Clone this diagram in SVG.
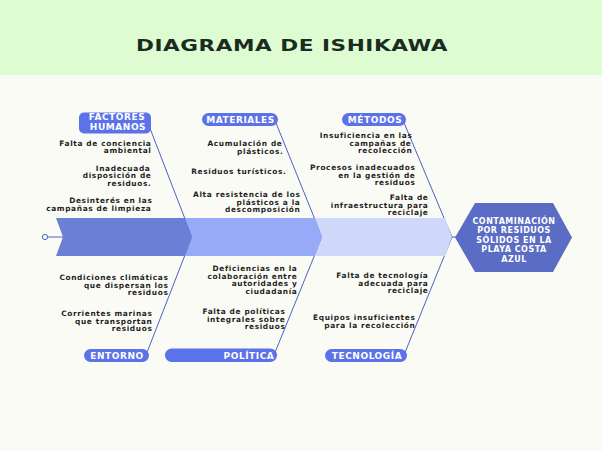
<svg xmlns="http://www.w3.org/2000/svg" width="602" height="451" viewBox="0 0 602 451">
  <style>
    .cause { font-family: "DejaVu Sans", "Liberation Sans", sans-serif; font-weight: bold; font-size: 7.4px; letter-spacing: 0.65px; fill: #1e1e1e; text-anchor: end; }
    .label { font-family: "DejaVu Sans", "Liberation Sans", sans-serif; font-weight: bold; font-size: 9px; letter-spacing: 0.55px; fill: #ffffff; text-anchor: middle; }
    .pill { fill: #5b72e9; }
    .bone { stroke: #4d5fc6; stroke-width: 1; fill: none; }
    .effect { font-family: "DejaVu Sans", "Liberation Sans", sans-serif; font-weight: bold; font-size: 8px; letter-spacing: 0.5px; fill: #ffffff; text-anchor: middle; }
  </style>

  <!-- background -->
  <rect x="0" y="0" width="602" height="451" fill="#fbfbf5"/>
  <rect x="0" y="0" width="602" height="75" fill="#ddfcd2"/>

  <!-- title -->
  <g id="title" transform="translate(292,50.5) scale(1.35,1)">
    <text x="0" y="0" font-family="DejaVu Sans, Liberation Sans, sans-serif" font-weight="bold" font-size="16" letter-spacing="0.4" fill="#1b2b1f" text-anchor="middle">DIAGRAMA DE ISHIKAWA</text>
  </g>

  <!-- connectors: bones converge on the chevron tips -->
  <g id="connectors">
    <line class="bone" x1="146" y1="118" x2="192" y2="237"/>
    <line class="bone" x1="274" y1="118" x2="322" y2="237"/>
    <line class="bone" x1="402" y1="118" x2="452" y2="237"/>
    <line class="bone" x1="146" y1="355" x2="192" y2="237"/>
    <line class="bone" x1="274" y1="355" x2="322" y2="237"/>
    <line class="bone" x1="404" y1="355" x2="452" y2="237"/>
    <line class="bone" x1="48" y1="237" x2="63" y2="237"/>
    <line class="bone" x1="450" y1="237" x2="457" y2="237"/>
  </g>

  <!-- spine -->
  <g id="spine">
    <circle cx="45" cy="237" r="2.6" fill="#fbfbf5" stroke="#4d5fc6" stroke-width="1"/>
    <polygon points="315,218 445,218 452,237 445,256 315,256 322,237" fill="#cfd8fb"/>
    <polygon points="185,218 315,218 322,237 315,256 185,256 192,237" fill="#97aaf8"/>
    <polygon points="56,218 185,218 192,237 185,256 56,256 63,237" fill="#6a7fd6"/>
  </g>

  <!-- effect -->
  <g id="effect">
    <polygon points="455,237.5 475,203 553,203 572,237.5 553,272 475,272" fill="#5b6cc4"/>
    <text class="effect" x="514" y="223.9">CONTAMINACIÓN</text>
    <text class="effect" x="514" y="233.4">POR RESIDUOS</text>
    <text class="effect" x="514" y="242.9">SÓLIDOS EN LA</text>
    <text class="effect" x="514" y="252.4">PLAYA COSTA</text>
    <text class="effect" x="514" y="261.9">AZUL</text>
  </g>

  <!-- Factores humanos -->
  <g id="factores-humanos">
    <rect class="pill" x="79" y="112.5" width="72" height="21" rx="5"/>
    <text class="label" x="117" y="120.2" font-size="8">FACTORES</text>
    <text class="label" x="118" y="129.8" font-size="8">HUMANOS</text>
    <text class="cause" x="151.5" y="145.5">Falta de conciencia</text>
    <text class="cause" x="151.5" y="153">ambiental</text>
    <text class="cause" x="150.5" y="170.5">Inadecuada</text>
    <text class="cause" x="151.5" y="178">disposición de</text>
    <text class="cause" x="151.5" y="185.5">residuos.</text>
    <text class="cause" x="152.5" y="203">Desinterés en las</text>
    <text class="cause" x="151.5" y="210.5">campañas de limpieza</text>
  </g>

  <!-- Materiales -->
  <g id="materiales">
    <rect class="pill" x="202" y="113" width="76" height="13" rx="6.5"/>
    <text class="label" x="240.5" y="122.8">MATERIALES</text>
    <text class="cause" x="282.5" y="146">Acumulación de</text>
    <text class="cause" x="283.5" y="153.5">plásticos.</text>
    <text class="cause" x="286.5" y="174">Residuos turísticos.</text>
    <text class="cause" x="300.5" y="197">Alta resistencia de los</text>
    <text class="cause" x="300.5" y="204.5">plásticos a la</text>
    <text class="cause" x="300.5" y="212">descomposición</text>
  </g>

  <!-- Métodos -->
  <g id="metodos">
    <rect class="pill" x="342" y="113" width="64" height="13" rx="6.5"/>
    <text class="label" x="375" y="122.8">MÉTODOS</text>
    <text class="cause" x="412.5" y="138">Insuficiencia en las</text>
    <text class="cause" x="411.5" y="145.5">campañas de</text>
    <text class="cause" x="412.5" y="153">recolección</text>
    <text class="cause" x="415.5" y="170">Procesos inadecuados</text>
    <text class="cause" x="415.5" y="177.5">en la gestión de</text>
    <text class="cause" x="415.5" y="185">residuos</text>
    <text class="cause" x="428.5" y="200">Falta de</text>
    <text class="cause" x="428.5" y="207.5">infraestructura para</text>
    <text class="cause" x="428.5" y="215">reciclaje</text>
  </g>

  <!-- Entorno -->
  <g id="entorno">
    <rect class="pill" x="84" y="349" width="65" height="13" rx="6.5"/>
    <text class="label" x="117" y="358.8">ENTORNO</text>
    <text class="cause" x="168.5" y="280">Condiciones climáticas</text>
    <text class="cause" x="168.5" y="287.5">que dispersan los</text>
    <text class="cause" x="168.5" y="295">residuos</text>
    <text class="cause" x="152.5" y="316">Corrientes marinas</text>
    <text class="cause" x="152.5" y="323.5">que transportan</text>
    <text class="cause" x="152.5" y="331">residuos</text>
  </g>

  <!-- Política -->
  <g id="politica">
    <rect class="pill" x="165" y="348.5" width="112" height="13.5" rx="6.7"/>
    <text class="label" x="249" y="358.8">POLÍTICA</text>
    <text class="cause" x="297.5" y="271">Deficiencias en la</text>
    <text class="cause" x="297.5" y="278.5">colaboración entre</text>
    <text class="cause" x="297.5" y="286">autoridades y</text>
    <text class="cause" x="297.5" y="293.5">ciudadanía</text>
    <text class="cause" x="285.5" y="314">Falta de políticas</text>
    <text class="cause" x="285.5" y="321.5">integrales sobre</text>
    <text class="cause" x="285.5" y="329">residuos</text>
  </g>

  <!-- Tecnología -->
  <g id="tecnologia">
    <rect class="pill" x="325" y="349" width="82" height="13" rx="6.5"/>
    <text class="label" x="367" y="358.8">TECNOLOGÍA</text>
    <text class="cause" x="428.5" y="278">Falta de tecnología</text>
    <text class="cause" x="428.5" y="285.5">adecuada para</text>
    <text class="cause" x="428.5" y="293">reciclaje</text>
    <text class="cause" x="415.5" y="320">Equipos insuficientes</text>
    <text class="cause" x="415.5" y="327.5">para la recolección</text>
  </g>
</svg>
